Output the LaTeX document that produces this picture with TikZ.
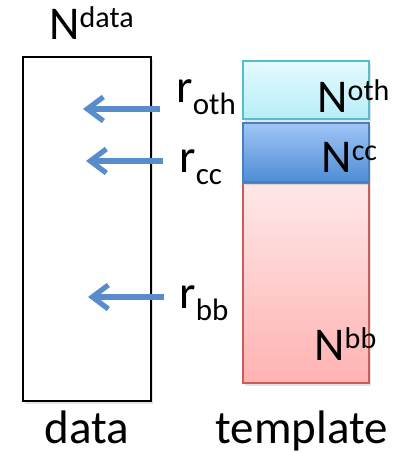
\documentclass[tikz,border=0pt]{standalone}
\usepackage{fontspec}
\setmainfont{Carlito}
\usetikzlibrary{arrows.meta,shadows}

\definecolor{arrowblue}{RGB}{88,140,202}
\definecolor{othtop}{RGB}{228,250,255}
\definecolor{othbot}{RGB}{184,238,248}
\definecolor{othline}{RGB}{84,190,208}
\definecolor{cctop}{RGB}{160,198,246}
\definecolor{ccbot}{RGB}{78,140,212}
\definecolor{ccline}{RGB}{74,126,188}
\definecolor{bbtop}{RGB}{255,232,232}
\definecolor{bbbot}{RGB}{255,178,178}
\definecolor{bbline}{RGB}{204,92,88}

\newcommand{\supscr}[1]{\raisebox{6pt}{\fontsize{15}{16}\selectfont #1}}
\newcommand{\subscr}[1]{\raisebox{-6pt}{\fontsize{15.5}{16}\selectfont #1}}

\tikzset{
  lbl/.style={inner sep=0pt, anchor=base west, font=\fontsize{23.5}{27}\selectfont},
  softshadow/.style={drop shadow={opacity=0.22, shadow xshift=1pt, shadow yshift=-1.5pt}},
  blockbox/.style={rectangle, inner sep=0pt, line width=1pt, minimum width=63pt, softshadow},
  ray/.style={draw=arrowblue, line width=2.6pt,
    -{Straight Barb[length=8pt, width=12pt, line width=2.6pt]}},
}

\begin{document}
\begin{tikzpicture}[x=0.5pt, y=-0.5pt]
  \useasboundingbox (0,0) rectangle (399,453);

  % data column
  \node[blockbox, draw=black, fill=white, minimum width=64pt, minimum height=172pt]
    (data) at (87,229) {};

  % template column: three stacked bands
  \node[blockbox, draw=othline, top color=othtop, bottom color=othbot, minimum height=29pt]
    (oth) at (306,90) {};
  \node[blockbox, draw=bbline, top color=bbtop, bottom color=bbbot, minimum height=100pt]
    (bb) at (306,283) {};
  \node[blockbox, draw=ccline, top color=cctop, bottom color=ccbot, minimum height=29.5pt]
    (cc) at (306,152.5) {};

  % sizes
  \node[lbl] (ndata) at (49,40) {N\supscr{data}};
  \node[lbl] (noth) at (317,113) {N\supscr{oth}};
  \node[lbl] (ncc) at (321,173) {N\supscr{cc}};
  \node[lbl] (nbb) at (314,360) {N\supscr{bb}};

  % ratios
  \node[lbl] (roth) at (176,103) {r\subscr{oth}};
  \node[lbl] (rcc) at (179,173) {r\subscr{cc}};
  \node[lbl] (rbb) at (179,308) {r\subscr{bb}};

  % arrow ends
  \coordinate (othtail) at (160,109);
  \coordinate (othtip) at (83,109);
  \coordinate (cctail) at (163,161);
  \coordinate (cctip) at (86,161);
  \coordinate (bbtail) at (164,297);
  \coordinate (bbtip) at (88,297);
  \draw[ray] (othtail) -- (othtip);
  \draw[ray] (cctail) -- (cctip);
  \draw[ray] (bbtail) -- (bbtip);

  % column captions
  \node[lbl] (capdata) at (44,443) {data};
  \node[lbl] (captemplate) at (215,443) {template};
\end{tikzpicture}
\end{document}
